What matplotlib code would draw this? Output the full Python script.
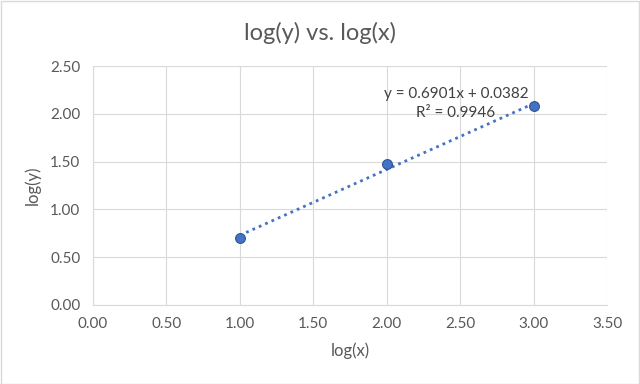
import numpy as np
import matplotlib.pyplot as plt
from matplotlib.patches import Rectangle

# Data
log_x = [1.0, 2.0, 3.0]
log_y = [0.699, 1.477, 2.079]
x_ticks = [0.0, 0.5, 1.0, 1.5, 2.0, 2.5, 3.0, 3.5]
y_ticks = [0.0, 0.5, 1.0, 1.5, 2.0, 2.5]
eq_text = "y = 0.6901x + 0.0382\nR\u00b2 = 0.9946"

plt.rcParams['font.family'] = ['Lato', 'DejaVu Sans']
text_col = '#595959'
blue = '#4472C4'

fig = plt.figure(figsize=(6.4, 3.84), dpi=100)
ax = fig.add_axes([0.145, 0.206, 0.804, 0.622])

# Linear trendline from the data
slope, intercept = np.polyfit(log_x, log_y, 1)
xs = np.array([min(log_x), max(log_x)])
ax.plot(xs, slope * xs + intercept, linestyle=(0, (1, 1.5)), color=blue,
        linewidth=2, zorder=2)

ax.scatter(log_x, log_y, s=50, color=blue, edgecolor='#2F5597',
           linewidth=0.8, zorder=3)

ax.text(2.47, 2.11, eq_text, ha='center', va='center', fontsize=11,
        color='#404040', multialignment='center', linespacing=1.45)

ax.set_xlim(0, 3.5)
ax.set_ylim(0, 2.5)
ax.set_xticks(x_ticks)
ax.set_yticks(y_ticks)
ax.set_xticklabels([f'{v:.2f}' for v in x_ticks])
ax.set_yticklabels([f'{v:.2f}' for v in y_ticks])
ax.grid(True, color='#d9d9d9', linewidth=0.8)
ax.set_axisbelow(True)
ax.tick_params(length=0, labelsize=11, labelcolor=text_col, pad=9)
for s in ['top', 'right']:
    ax.spines[s].set_visible(False)
for s in ['left', 'bottom']:
    ax.spines[s].set_color('#d9d9d9')

ax.set_xlabel('log(x)', fontsize=12, color=text_col, labelpad=8)
ax.set_ylabel('log(y)', fontsize=12, color=text_col, labelpad=7)
fig.text(0.5, 0.915, 'log(y) vs. log(x)', ha='center', va='center',
         fontsize=17, color=text_col)

# Chart area border
fig.patches.append(Rectangle((0.001, 0.001), 0.998, 0.997, transform=fig.transFigure,
                             fill=False, edgecolor='#d9d9d9', linewidth=1))

fig.savefig('out.png', dpi=100)
